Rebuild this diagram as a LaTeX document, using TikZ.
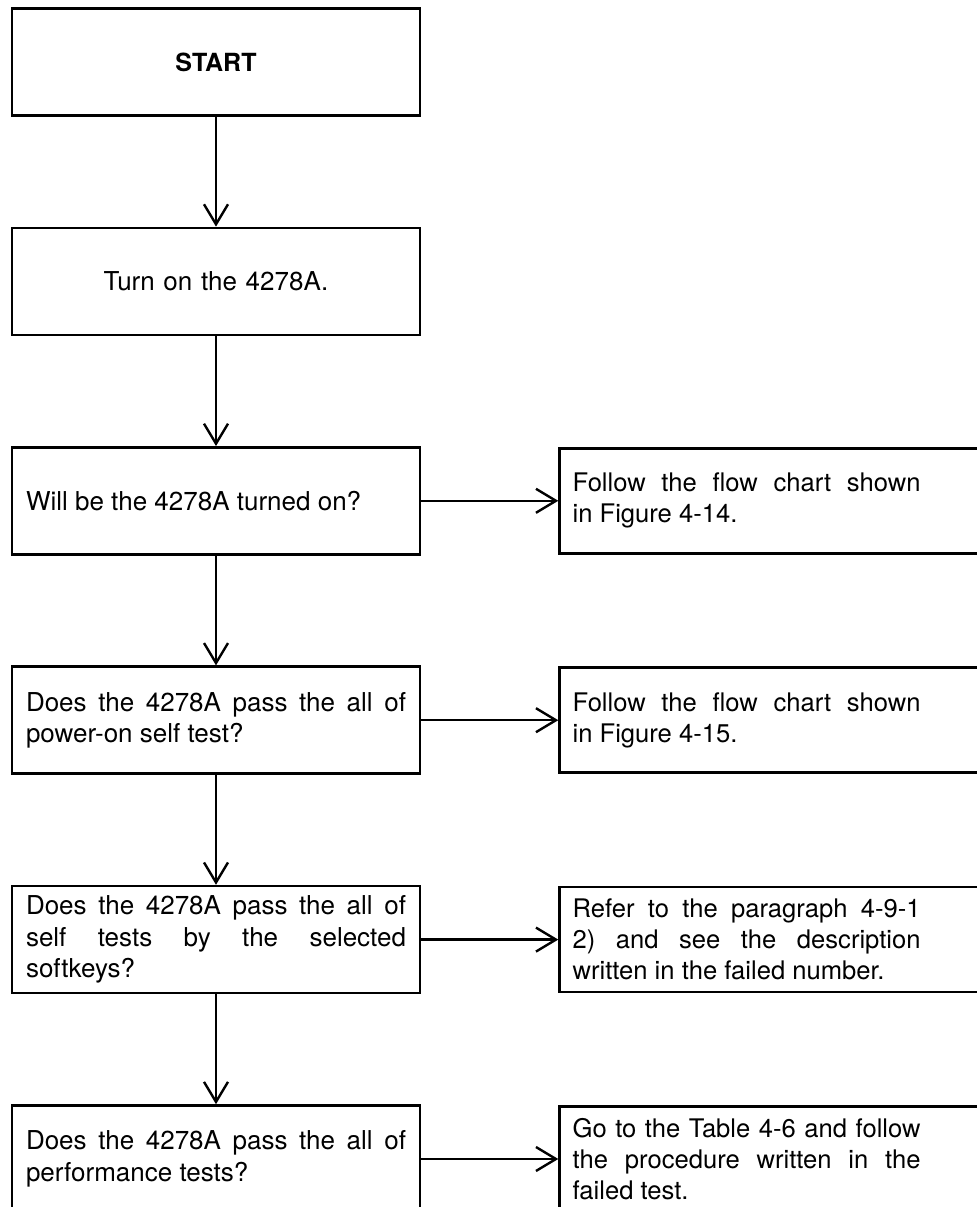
\documentclass[tikz,border=0pt]{standalone}
\usepackage{fontspec}
\setmainfont{TeX Gyre Heros}
\usetikzlibrary{arrows.meta,positioning}
\newcommand{\sidemargin}{\rightskip=30pt\relax}

\begin{document}
\begin{tikzpicture}[
  node distance=54.9pt and 68.5pt,
  box/.style={draw, line width=1.3pt, align=justify, minimum height=53.5pt,
              text width=190pt, inner xsep=7pt, font=\fontsize{13}{15.8}\selectfont},
  sidebox/.style={draw, line width=1.3pt, align=justify, minimum height=52.5pt,
                  text width=204pt, inner xsep=6.5pt, font=\fontsize{12.8}{15.5}\selectfont,
                  execute at begin node=\sidemargin},
  arrow/.style={-{Straight Barb[length=10pt, width=12pt, line width=1.2pt]}, line width=1.2pt}
]
\useasboundingbox (0,0) rectangle (488.5pt,-603.5pt);
\clip (0,0) rectangle (488.5pt,-603.5pt);

\node[box, align=center, font=\fontsize{12.5}{15}\selectfont\bfseries] (start) at (108pt,-31pt) {START};
\node[box, align=center, below=of start] (turnon) {Turn on the 4278A.};
\node[box, below=of turnon] (willon) {Will be the 4278A turned on?};
\node[box, below=of willon] (selftest) {Does the 4278A pass the all of\linebreak power-on self test?};
\node[box, below=of selftest] (softkeys) {Does the 4278A pass the all of\linebreak self tests by the selected\linebreak softkeys?};
\node[box, below=of softkeys] (perftest) {Does the 4278A pass the all of\linebreak performance tests?};

\node[sidebox, right=of willon] (fig14) {Follow the flow chart shown\linebreak in Figure 4-14.};
\node[sidebox, right=of selftest] (fig15) {Follow the flow chart shown\linebreak in Figure 4-15.};
\node[sidebox, right=of softkeys] (para) {Refer to the paragraph 4-9-1\linebreak 2) and see the description\linebreak written in the failed number.};
\node[sidebox, right=of perftest] (table) {Go to the Table 4-6 and follow\linebreak the procedure written in the\linebreak failed test.};

\draw[arrow] (start) -- (turnon);
\draw[arrow] (turnon) -- (willon);
\draw[arrow] (willon) -- (selftest);
\draw[arrow] (selftest) -- (softkeys);
\draw[arrow] (softkeys) -- (perftest);
\draw[arrow] (willon) -- (fig14);
\draw[arrow] (selftest) -- (fig15);
\draw[arrow] (softkeys) -- (para);
\draw[arrow] (perftest) -- (table);
\end{tikzpicture}
\end{document}
